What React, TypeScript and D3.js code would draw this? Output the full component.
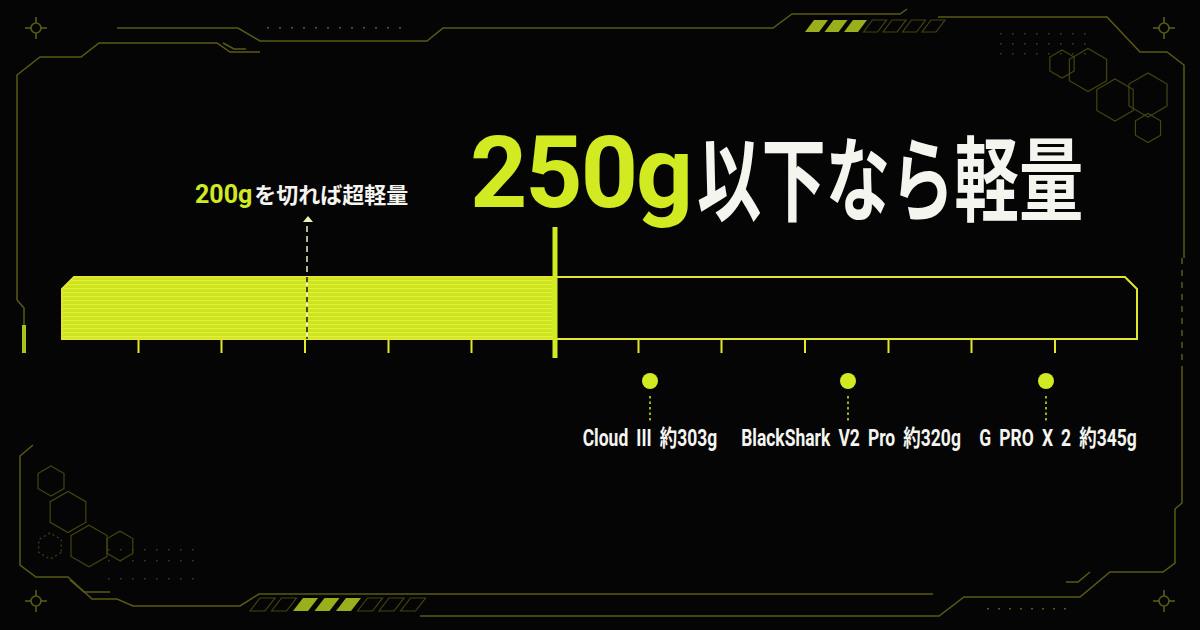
import React from "react";
import * as d3 from "d3";

// ---- data ----
const ULTRA_LIMIT = 200;
const LIGHT_LIMIT = 250;
const AXIS_DOMAIN: [number, number] = [151.4, 366.4];
const TICKS = [166.7, 183.3, 200, 216.7, 233.3, 250, 266.7, 283.3, 300, 316.7, 333.3, 350];
const PRODUCTS = ["Cloud III", "BlackShark V2 Pro", "G PRO X 2"];
const WEIGHTS = [303, 320, 345];
const TITLE_NUM = "250g";
const TITLE_TEXT = "以下なら軽量";
const SUB_NUM = "200g";
const SUB_TEXT = "を切れば超軽量";

const LIME = "#d2ea22";
const OUTLINE = "#e2e62c";
const FRAME = "#5a5a16";
const HEXC = "#45450f";
const WHITE = "#f5f5f0";

const W = 1200;
const H = 630;

const hexPts = (cx: number, cy: number, r: number) =>
  d3.range(6).map((i) => {
    const a = (Math.PI / 3) * i + Math.PI / 6;
    return [cx + r * Math.cos(a), cy + r * Math.sin(a)];
  });

const line = d3.line();

function Crosshair({ cx, cy }: { cx: number; cy: number }) {
  return (
    <g stroke={FRAME} strokeWidth={1.6} fill="none">
      <line x1={cx - 11} y1={cy} x2={cx + 11} y2={cy} />
      <line x1={cx} y1={cy - 11} x2={cx} y2={cy + 11} />
      <circle cx={cx} cy={cy} r={5} fill="#050505" />
    </g>
  );
}

function Stripes({ x0, y, h, n, period, w, skew, filled }: any) {
  return (
    <g>
      {d3.range(n).map((i) => {
        const x = x0 + i * period;
        const pts: [number, number][] = [
          [x, y + h],
          [x + skew, y],
          [x + skew + w, y],
          [x + w, y + h],
        ];
        const f = filled.includes(i);
        return (
          <path
            key={i}
            d={line(pts)! + "Z"}
            fill={f ? "#b6cc20" : "none"}
            stroke={f ? "none" : HEXC}
            strokeWidth={1.2}
            opacity={f ? 0.85 : 1}
          />
        );
      })}
    </g>
  );
}

export default function App() {
  const x = d3.scaleLinear().domain(AXIS_DOMAIN).range([62, 1137]);
  const px = d3.scalePoint<string>().domain(PRODUCTS).range([650, 1046]);
  const labelDx = [0, 3, 12];

  const barTop = 277;
  const barBot = 339;
  const cham = 12;
  const xL = x(AXIS_DOMAIN[0]);
  const xR = x(AXIS_DOMAIN[1]);
  const x250 = x(LIGHT_LIMIT);
  const x200 = x(ULTRA_LIMIT);

  const fillPts: [number, number][] = [
    [xL, barTop + cham],
    [xL + cham, barTop],
    [x250, barTop],
    [x250, barBot],
    [xL, barBot],
  ];
  const outlinePts: [number, number][] = [
    [xL, barTop + cham],
    [xL + cham, barTop],
    [xR - cham, barTop],
    [xR, barTop + cham],
    [xR, barBot],
    [xL, barBot],
  ];

  const framePaths: [number, number][][] = [
    [[17, 300], [17, 75], [40, 57], [81, 57], [99, 43], [217, 43], [230, 52], [260, 52]],
    [[223, 43], [234, 49], [246, 49]],
    [[117, 28], [238, 28], [260, 41], [427, 41], [443, 28], [773, 28], [792, 14], [900, 14], [907, 9]],
    [[938, 17], [1107, 17], [1140, 52], [1167, 52], [1184, 65], [1184, 258]],
    [[1182, 372], [1182, 503], [1175, 509], [1175, 563], [1163, 572], [1110, 572], [1080, 597], [964, 597], [939, 616], [420, 616]],
    [[1090, 572], [1078, 582], [1066, 582]],
    [[33, 445], [20, 456], [20, 565], [36, 577], [68, 577], [92, 599], [117, 599], [133, 606], [240, 606], [259, 594], [933, 594]],
    [[70, 580], [84, 592], [110, 592]],
    [[17, 300], [24, 308], [24, 325]],
  ];

  const hexTR = [
    [1062, 64, 14],
    [1088, 70, 21.5],
    [1115, 100, 21],
    [1148, 95, 22],
    [1148, 128, 14.5],
  ];
  const hexBL = [
    [51, 481, 15],
    [68, 512, 20.6],
    [89, 546, 20.8],
    [120, 546, 14.8],
  ];

  const labelFont = "Roboto, 'Noto Sans CJK JP', sans-serif";
  const jpFont = "'Noto Sans CJK JP', 'Noto Sans', sans-serif";

  return (
    <svg
      width={W}
      height={H}
      viewBox={`0 0 ${W} ${H}`}
      style={{ position: "absolute", left: 0, top: 0, display: "block" }}
    >
      <defs>
        <pattern id="scan" width={4} height={4} patternUnits="userSpaceOnUse">
          <rect width={4} height={4} fill="#cde41c" />
          <rect width={4} height={1.2} fill="#dff03e" />
        </pattern>
      </defs>
      <rect width={W} height={H} fill="#050505" />

      <g fill="none" stroke={FRAME} strokeWidth={1.5}>
        {framePaths.map((p, i) => (
          <path key={i} d={line(p as [number, number][])!} />
        ))}
        <line x1={1182} y1={258} x2={1182} y2={372} strokeDasharray="6 6" />
      </g>
      <rect x={22} y={325} width={4} height={28} fill="#a9c21c" />

      <g fill={FRAME}>
        {d3.range(267, 400, 12).map((d) => (
          <rect key={"t" + d} x={d} y={27} width={2} height={1.5} />
        ))}
        {d3.range(987, 1066, 11).map((d) => (
          <rect key={"b" + d} x={d} y={608} width={2} height={1.5} />
        ))}
        {d3.range(1000, 1092, 12).flatMap((dx) =>
          [33, 43, 53].map((dy) => (
            <rect key={`g${dx}-${dy}`} x={dx} y={dy} width={1.5} height={1.5} opacity={0.7} />
          ))
        )}
        {d3.range(108, 194, 12).flatMap((dx) =>
          [549, 560, 578].map((dy) => (
            <rect key={`h${dx}-${dy}`} x={dx} y={dy} width={1.5} height={1.5} opacity={0.7} />
          ))
        )}
      </g>

      <g fill="none" stroke={HEXC} strokeWidth={1.2}>
        {[...hexTR, ...hexBL].map(([cx, cy, r], i) => (
          <path key={i} d={line(hexPts(cx, cy, r) as [number, number][])! + "Z"} />
        ))}
        <path d={line(hexPts(50, 546, 13) as [number, number][])! + "Z"} strokeDasharray="2 3" />
      </g>

      <Stripes x0={805} y={20} h={12} n={7} period={19.5} w={14} skew={9} filled={[0, 1, 2]} />
      <Stripes x0={250} y={598} h={13} n={8} period={21.5} w={15} skew={10} filled={[2, 3, 4]} />

      <Crosshair cx={36} cy={28} />
      <Crosshair cx={1164} cy={28} />
      <Crosshair cx={36} cy={601} />
      <Crosshair cx={1164} cy={601} />

      <text x={470} y={207} fontFamily="Roboto, sans-serif" fontWeight={700} fontSize={100} fill={LIME} letterSpacing={-2}>
        {TITLE_NUM}
      </text>
      <g transform="translate(697,214) scale(0.70,1)">
        <text x={0} y={0} fontFamily={jpFont} fontWeight={700} fontSize={92} fill={WHITE}>
          {TITLE_TEXT}
        </text>
      </g>

      <text x={x200 - 110} y={203} fontWeight={700}>
        <tspan fontFamily="Roboto, sans-serif" fontSize={25} fill={LIME}>
          {SUB_NUM}
        </tspan>
        <tspan fontFamily={jpFont} fontSize={22} fill={WHITE} dx={2}>
          {SUB_TEXT}
        </tspan>
      </text>
      <path
        d={line([
          [x200 - 2, 222],
          [x200 + 3, 216],
          [x200 + 8, 222],
        ])! + "Z"}
        fill="#f0efb8"
      />

      <path d={line(fillPts)! + "Z"} fill="url(#scan)" />
      <path d={line(outlinePts)! + "Z"} fill="none" stroke={OUTLINE} strokeWidth={2} />
      <g stroke={OUTLINE} strokeWidth={2}>
        {TICKS.map((t) => (
          <line key={t} x1={x(t)} x2={x(t)} y1={barBot} y2={barBot + 14} />
        ))}
      </g>
      <line x1={x200 + 2} x2={x200 + 2} y1={226} y2={barTop} stroke="#f0efb8" strokeWidth={1.5} strokeDasharray="6 4" />
      <line x1={x200 + 2} x2={x200 + 2} y1={barTop} y2={barBot} stroke="#1a1a08" strokeWidth={1.5} strokeDasharray="6 4" />
      <line x1={x200 + 2} x2={x200 + 2} y1={barTop + 5} y2={barBot} stroke="#f8f8e0" strokeWidth={1.5} strokeDasharray="4 6" />
      <rect x={x250 - 2.5} y={227} width={5} height={131} fill={LIME} />

      {PRODUCTS.map((p, i) => {
        const cx = px(p)!;
        return (
          <g key={p}>
            <circle cx={cx} cy={381} r={8} fill={LIME} />
            <line x1={cx} x2={cx} y1={396} y2={422} stroke={LIME} strokeWidth={1.5} strokeDasharray="2.5 3" />
            <g transform={`translate(${cx + labelDx[i]},446) scale(0.76,1)`}>
              <text
                x={0}
                y={0}
                textAnchor="middle"
                fontFamily={labelFont}
                fontWeight={700}
                fontSize={23}
                fill={WHITE}
                wordSpacing={5}
              >
                {`${p} 約${WEIGHTS[i]}g`}
              </text>
            </g>
          </g>
        );
      })}
    </svg>
  );
}
